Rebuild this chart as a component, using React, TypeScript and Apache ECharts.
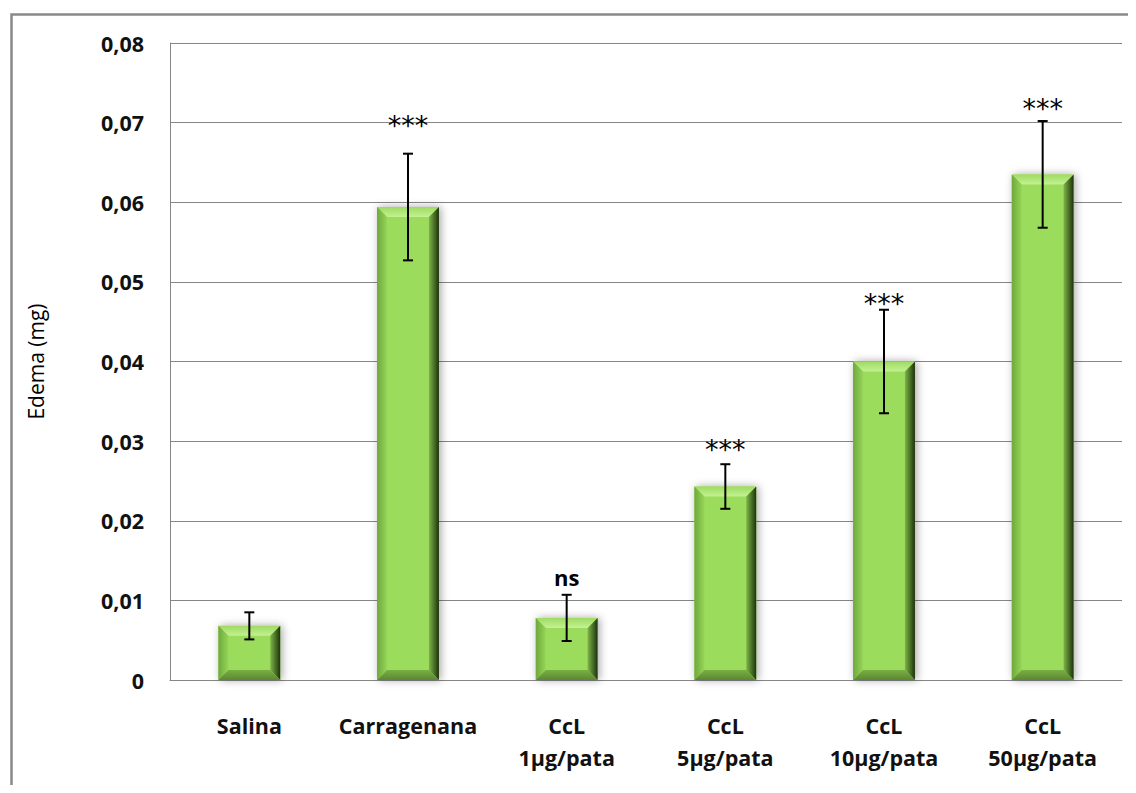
import React, { useEffect, useRef } from "react";
import * as echarts from "echarts";

const categories = ["Salina", "Carragenana", "CcL\n1µg/pata", "CcL\n5µg/pata", "CcL\n10µg/pata", "CcL\n50µg/pata"];
const means = [0.0068, 0.0594, 0.0078, 0.0243, 0.0400, 0.0635];
const errors = [0.0017, 0.0067, 0.0029, 0.0028, 0.0065, 0.0067];
const annotations = ["", "***", "ns", "***", "***", "***"];
const annotationY = [0, 0.0700, 0.0129, 0.0293, 0.0477, 0.0722];
const yTicks = { min: 0, max: 0.08, interval: 0.01 };
const yName = "Edema (mg)";

const FONT = "'Open Sans', 'Liberation Sans', sans-serif";

export default function App() {
  const ref = useRef<HTMLDivElement>(null);
  useEffect(() => {
    if (!ref.current) return;
    const chart = echarts.init(ref.current, null, { renderer: "svg" });
    const barData = means.map((v, i) => [i, v]);
    const errData = means.map((v, i) => [i, v - errors[i], v + errors[i]]);
    const annData = annotations.map((t, i) => [i, annotationY[i], t]);
    chart.setOption({
      animation: false,
      backgroundColor: "#ffffff",
      textStyle: { fontFamily: FONT },
      graphic: [
        {
          type: "rect",
          shape: { x: 11.5, y: 14.5, width: 1300, height: 900 },
          style: { fill: "none", stroke: "#898989", lineWidth: 2.5 },
          z: 100,
        },
      ],
      grid: { left: 170, right: 14, top: 43, bottom: 113, containLabel: false },
      xAxis: {
        type: "category",
        data: categories,
        axisLine: { show: true, lineStyle: { color: "#868686", width: 1 } },
        axisTick: { show: false },
        axisLabel: {
          interval: 0,
          margin: 29,
          fontSize: 21.5,
          fontWeight: "bold",
          color: "#111",
          lineHeight: 32,
          fontFamily: FONT,
        },
      },
      yAxis: {
        type: "value",
        min: yTicks.min,
        max: yTicks.max,
        interval: yTicks.interval,
        name: yName,
        nameLocation: "middle",
        nameGap: 124,
        nameRotate: 90,
        nameTextStyle: { fontSize: 21, color: "#000", fontFamily: FONT },
        axisLine: { show: true, lineStyle: { color: "#868686", width: 1 } },
        axisTick: { show: false },
        splitLine: { show: true, lineStyle: { color: "#868686", width: 1 } },
        axisLabel: {
          margin: 26,
          fontSize: 21.5,
          fontWeight: "bold",
          color: "#111",
          fontFamily: FONT,
          formatter: (v: number) => (v === 0 ? "0" : v.toFixed(2).replace(".", ",")),
        },
      },
      series: [
        {
          type: "custom",
          data: barData,
          encode: { x: 0, y: 1 },
          z: 2,
          renderItem: (params: any, api: any) => {
            const idx = api.value(0);
            const v = api.value(1);
            const top = api.coord([idx, v]);
            const base = api.coord([idx, 0]);
            const bw = api.size([1, 0])[0] * 0.39;
            const x0 = top[0] - bw / 2;
            const x1 = top[0] + bw / 2;
            const y0 = top[1];
            const y1 = base[1];
            const b = Math.min(10, (y1 - y0) / 3);
            return {
              type: "group",
              children: [
                {
                  type: "rect",
                  shape: { x: x0, y: y0, width: bw, height: y1 - y0 },
                  style: {
                    fill: "#9CDC5C",
                    shadowBlur: 8,
                    shadowColor: "rgba(0,0,0,0.35)",
                    shadowOffsetX: 2,
                    shadowOffsetY: 0,
                  },
                },
                {
                  type: "polygon",
                  shape: { points: [[x0, y0], [x1, y0], [x1 - b, y0 + b], [x0 + b, y0 + b]] },
                  style: {
                    fill: new echarts.graphic.LinearGradient(0, 0, 0, 1, [
                      { offset: 0, color: "#9FDA62" },
                      { offset: 1, color: "#C2F292" },
                    ]),
                  },
                },
                {
                  type: "polygon",
                  shape: { points: [[x0, y0], [x0 + b, y0 + b], [x0 + b, y1 - b], [x0, y1]] },
                  style: {
                    fill: new echarts.graphic.LinearGradient(0, 0, 1, 0, [
                      { offset: 0, color: "#6FA83C" },
                      { offset: 1, color: "#95D558" },
                    ]),
                  },
                },
                {
                  type: "polygon",
                  shape: { points: [[x1, y0], [x1, y1], [x1 - b, y1 - b], [x1 - b, y0 + b]] },
                  style: {
                    fill: new echarts.graphic.LinearGradient(0, 0, 1, 0, [
                      { offset: 0, color: "#7EB34A" },
                      { offset: 0.55, color: "#476E25" },
                      { offset: 1, color: "#1E300D" },
                    ]),
                  },
                },
                {
                  type: "polygon",
                  shape: { points: [[x0, y1], [x1, y1], [x1 - b, y1 - b], [x0 + b, y1 - b]] },
                  style: {
                    fill: new echarts.graphic.LinearGradient(0, 0, 0, 1, [
                      { offset: 0, color: "#7AAE46" },
                      { offset: 1, color: "#5A8830" },
                    ]),
                  },
                },
              ],
            };
          },
        },
        {
          type: "custom",
          data: errData,
          encode: { x: 0, y: [1, 2] },
          z: 3,
          renderItem: (params: any, api: any) => {
            const idx = api.value(0);
            const lo = api.coord([idx, api.value(1)]);
            const hi = api.coord([idx, api.value(2)]);
            const cap = 5;
            const st = { stroke: "#000", lineWidth: 2 };
            return {
              type: "group",
              children: [
                { type: "line", shape: { x1: lo[0], y1: lo[1], x2: hi[0], y2: hi[1] }, style: st },
                { type: "line", shape: { x1: hi[0] - cap, y1: hi[1], x2: hi[0] + cap, y2: hi[1] }, style: st },
                { type: "line", shape: { x1: lo[0] - cap, y1: lo[1], x2: lo[0] + cap, y2: lo[1] }, style: st },
              ],
            };
          },
        },
        {
          type: "custom",
          data: annData,
          encode: { x: 0, y: 1 },
          z: 4,
          renderItem: (params: any, api: any) => {
            const idx = api.value(0);
            const txt = annotations[idx];
            if (!txt) return null;
            const p = api.coord([idx, api.value(1)]);
            const isNs = txt === "ns";
            return {
              type: "text",
              x: p[0],
              y: isNs ? p[1] : p[1] + 3,
              style: {
                text: txt,
                fill: "#000",
                font: isNs ? `bold 22px ${FONT}` : `27px 'DejaVu Sans', ${FONT}`,
                align: "center",
                verticalAlign: "middle",
              },
            };
          },
        },
      ],
    });
    return () => chart.dispose();
  }, []);
  return <div ref={ref} style={{ width: 1136, height: 793, margin: -8 }} />;
}
